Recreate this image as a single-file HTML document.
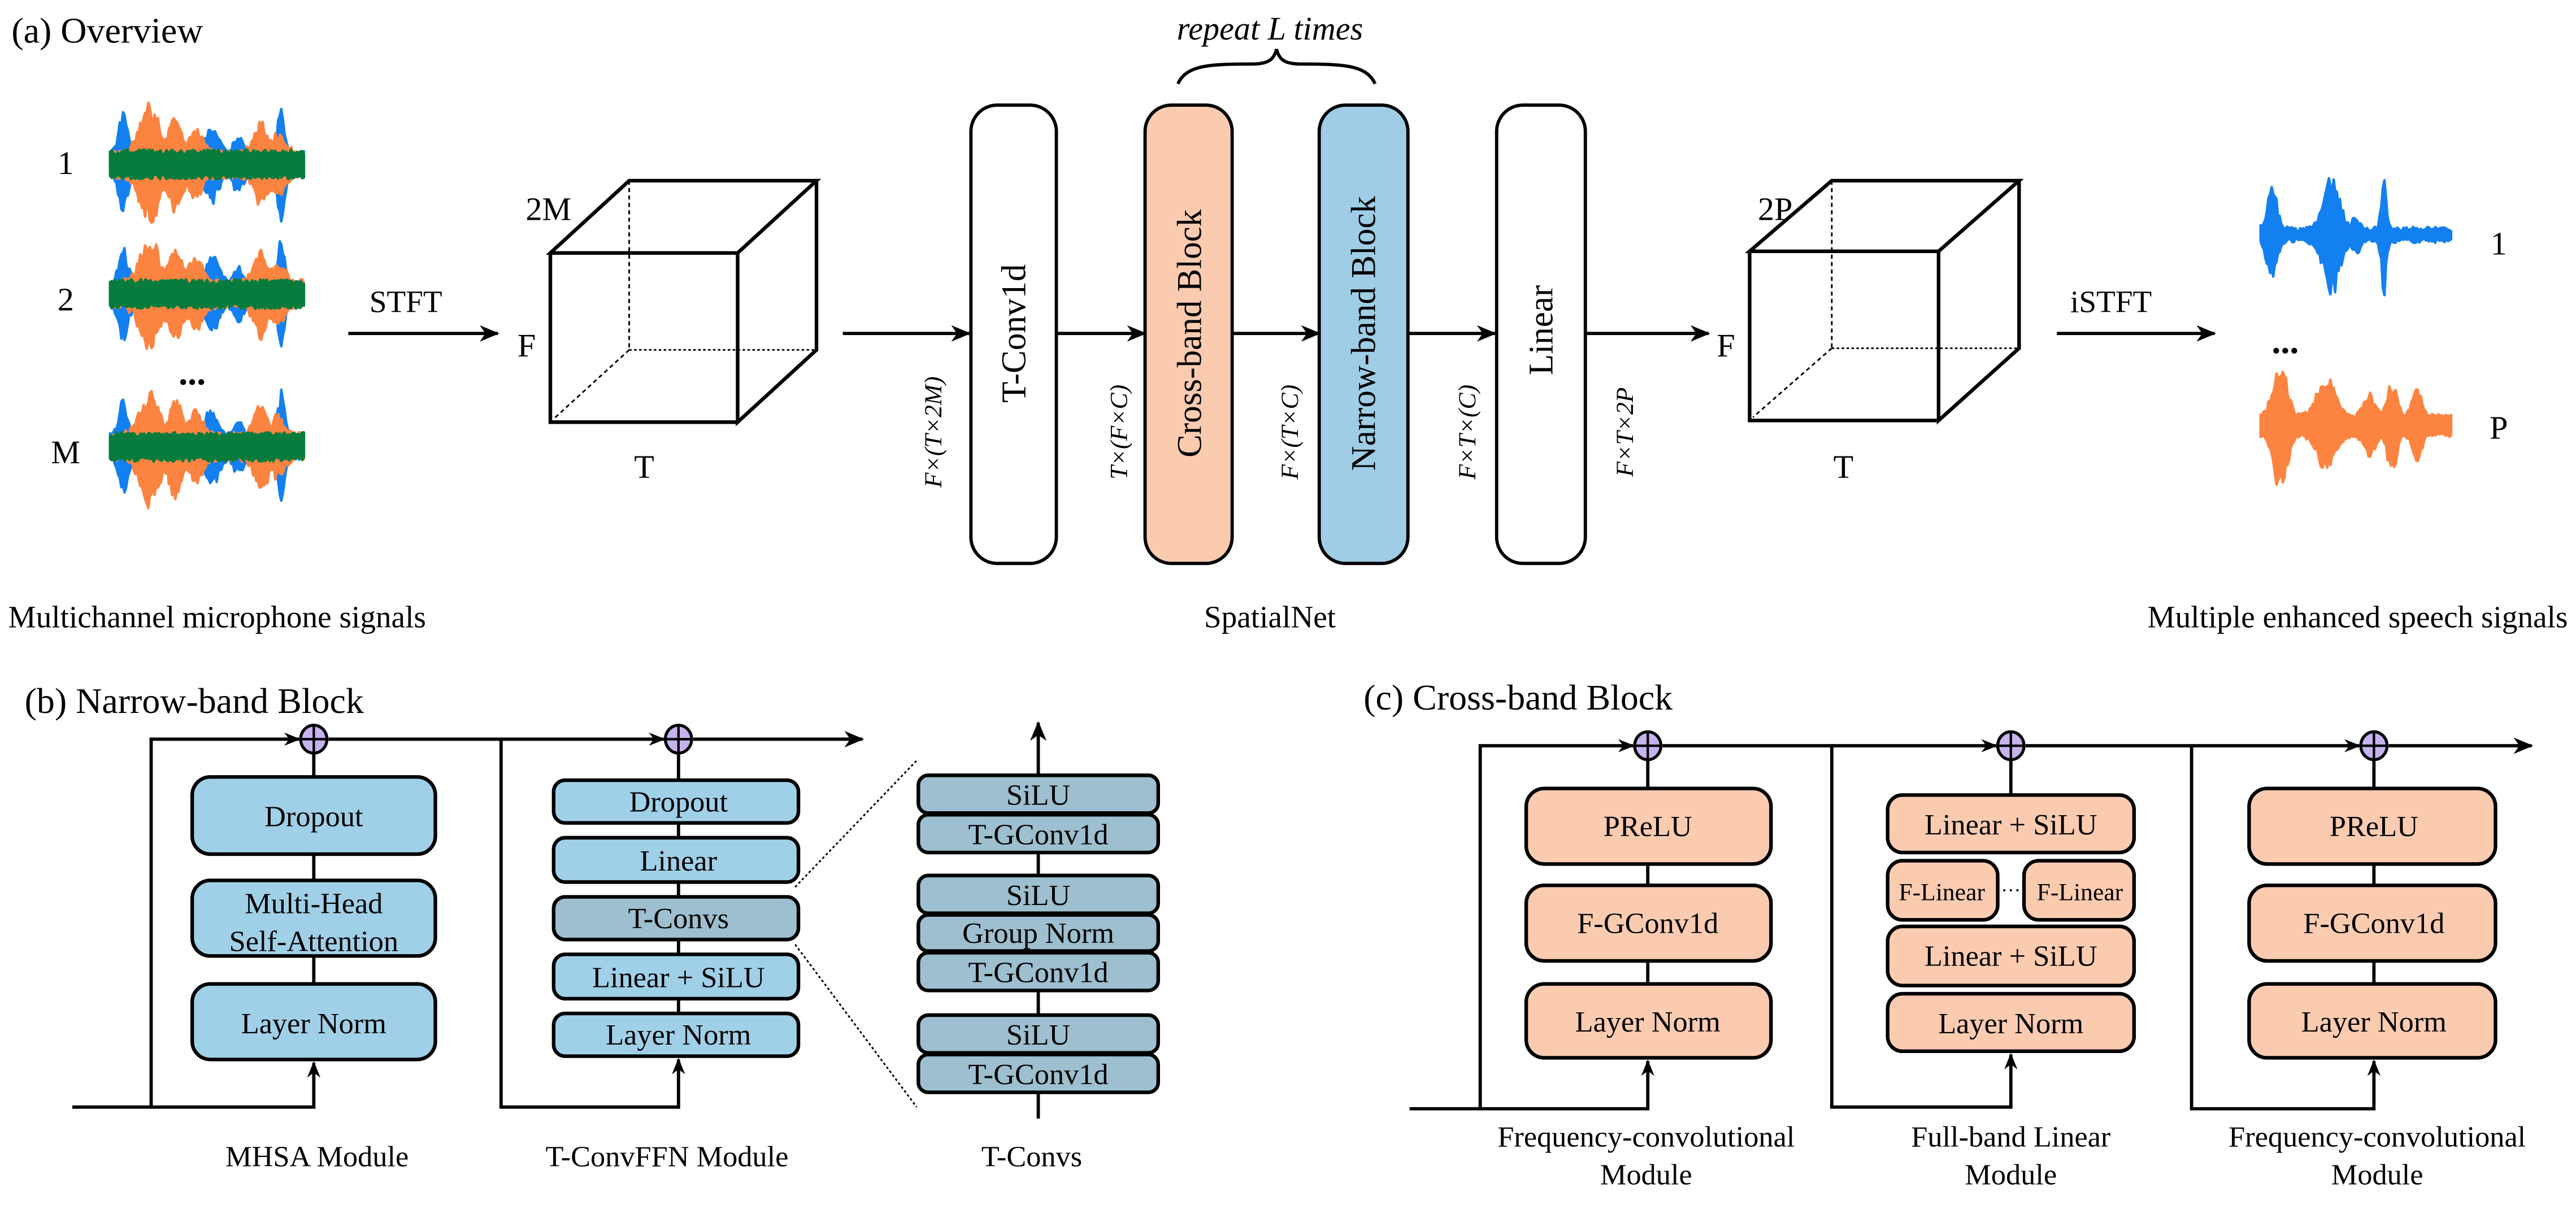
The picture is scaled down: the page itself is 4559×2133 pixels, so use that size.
<!DOCTYPE html>
<html><head><meta charset="utf-8">
<style>
html,body{margin:0;padding:0;background:#fff;}
svg{display:block;}
text{font-family:"Liberation Serif","DejaVu Serif",serif;fill:#000;}
</style></head>
<body>
<svg id="s" width="4559" height="2133" viewBox="0 0 1568 733.6" preserveAspectRatio="none" xmlns="http://www.w3.org/2000/svg">
<defs>
<marker id="ah" markerWidth="12" markerHeight="10" refX="11" refY="5" orient="auto" markerUnits="userSpaceOnUse">
<path d="M0,0 L12,5 L0,10 L3.5,5 Z" fill="#000"/>
</marker>
<marker id="ahs" markerWidth="10" markerHeight="8" refX="9" refY="4" orient="auto" markerUnits="userSpaceOnUse">
<path d="M0,0 L10,4 L0,8 L3,4 Z" fill="#000"/>
</marker>
</defs>
<rect width="1568" height="733.6" fill="#fff"/>

<!-- (a) Overview -->
<text x="7" y="26" font-size="22">(a) Overview</text>
<text x="773" y="24" font-size="20" font-style="italic" text-anchor="middle">repeat L times</text>
<path d="M717,51 C722,40 735,39 760,39 C770,39 775,38 777,30 C779,38 784,39 794,39 C819,39 832,40 837,51" fill="none" stroke="#000" stroke-width="2"/>

<g id="waves"></g>
<text x="40" y="106" font-size="20" text-anchor="middle">1</text>
<text x="40" y="189" font-size="20" text-anchor="middle">2</text>
<text x="117" y="234" font-size="22" text-anchor="middle" font-weight="bold">...</text>
<text x="40" y="282" font-size="20" text-anchor="middle">M</text>
<text x="5" y="382" font-size="19">Multichannel microphone signals</text>

<text x="247" y="190" font-size="19" text-anchor="middle">STFT</text>
<line x1="212" y1="203" x2="303" y2="203" stroke="#000" stroke-width="2" marker-end="url(#ah)"/>

<!-- cube 1 -->
<g fill="none" stroke="#000">
<line x1="383" y1="110" x2="383" y2="213" stroke-dasharray="2.5,2" stroke-width="1"/>
<line x1="383" y1="213" x2="497" y2="213" stroke-dasharray="1.5,1.5" stroke-width="1"/>
<line x1="383" y1="213" x2="337" y2="255" stroke-dasharray="2.5,2" stroke-width="1"/>
<path d="M335,154 L383,110 L497,110 L449,154 Z M449,154 L449,257 L497,213 L497,110 M335,154 L335,257 L449,257" stroke-width="2.2" stroke-linejoin="miter"/>
</g>
<text x="320" y="134" font-size="20">2M</text>
<text x="315" y="217" font-size="20">F</text>
<text x="386" y="291" font-size="20">T</text>

<line x1="513" y1="203" x2="590" y2="203" stroke="#000" stroke-width="2" marker-end="url(#ah)"/>
<rect x="591" y="64" width="52" height="279" rx="16" fill="#fff" stroke="#000" stroke-width="2"/>
<text transform="translate(624,203) rotate(-90)" font-size="21" text-anchor="middle">T-Conv1d</text>
<line x1="643" y1="203" x2="697" y2="203" stroke="#000" stroke-width="2" marker-end="url(#ah)"/>
<rect x="697" y="64" width="53" height="279" rx="16" fill="#fbcbb0" stroke="#000" stroke-width="2"/>
<text transform="translate(731,203) rotate(-90)" font-size="21" text-anchor="middle">Cross-band Block</text>
<line x1="750" y1="203" x2="803" y2="203" stroke="#000" stroke-width="2" marker-end="url(#ah)"/>
<rect x="803" y="64" width="54" height="279" rx="16" fill="#9fcde6" stroke="#000" stroke-width="2"/>
<text transform="translate(837,203) rotate(-90)" font-size="21" text-anchor="middle">Narrow-band Block</text>
<line x1="857" y1="203" x2="910" y2="203" stroke="#000" stroke-width="2" marker-end="url(#ah)"/>
<rect x="911" y="64" width="54" height="279" rx="16" fill="#fff" stroke="#000" stroke-width="2"/>
<text transform="translate(945,201) rotate(-90)" font-size="21" text-anchor="middle">Linear</text>
<line x1="965" y1="203" x2="1040" y2="203" stroke="#000" stroke-width="2" marker-end="url(#ah)"/>

<g font-size="15" font-style="italic">
<text transform="translate(573,263) rotate(-90)" text-anchor="middle">F×(T×2M)</text>
<text transform="translate(686,263) rotate(-90)" text-anchor="middle">T×(F×C)</text>
<text transform="translate(790,263) rotate(-90)" text-anchor="middle">F×(T×C)</text>
<text transform="translate(898,263) rotate(-90)" text-anchor="middle">F×T×(C)</text>
<text transform="translate(994,263) rotate(-90)" text-anchor="middle">F×T×2P</text>
</g>

<!-- cube 2 -->
<g fill="none" stroke="#000">
<line x1="1115" y1="110" x2="1115" y2="212" stroke-dasharray="2.5,2" stroke-width="1"/>
<line x1="1115" y1="212" x2="1229" y2="212" stroke-dasharray="1.5,1.5" stroke-width="1"/>
<line x1="1115" y1="212" x2="1067" y2="254" stroke-dasharray="2.5,2" stroke-width="1"/>
<path d="M1065,153 L1115,110 L1229,110 L1180,153 Z M1180,153 L1180,256 L1229,212 L1229,110 M1065,153 L1065,256 L1180,256" stroke-width="2.2"/>
</g>
<text x="1070" y="134" font-size="20">2P</text>
<text x="1045" y="217" font-size="20">F</text>
<text x="1116" y="291" font-size="20">T</text>

<text x="1285" y="190" font-size="19" text-anchor="middle">iSTFT</text>
<line x1="1252" y1="203" x2="1348" y2="203" stroke="#000" stroke-width="2" marker-end="url(#ah)"/>
<text x="1521" y="155" font-size="20" text-anchor="middle">1</text>
<text x="1391" y="215" font-size="22" text-anchor="middle" font-weight="bold">...</text>
<text x="1521" y="267" font-size="20" text-anchor="middle">P</text>
<text x="773" y="382" font-size="19" text-anchor="middle">SpatialNet</text>
<text x="1563" y="382" font-size="19" text-anchor="end">Multiple enhanced speech signals</text>

<!-- (b) Narrow-band -->
<text x="15" y="434" font-size="22">(b) Narrow-band Block</text>
<g fill="none" stroke="#000" stroke-width="2">
<path d="M44,674 L191,674 L191,647" marker-end="url(#ahs)"/>
<path d="M92,674 L92,450 L182,450" marker-end="url(#ahs)"/>
<line x1="191" y1="459" x2="191" y2="473"/>
<line x1="191" y1="520" x2="191" y2="536"/>
<line x1="191" y1="582" x2="191" y2="599"/>
<path d="M200,450 L404,450" marker-end="url(#ahs)"/>
<path d="M305,450 L305,674 L413,674 L413,645" marker-end="url(#ahs)"/>
<path d="M422,450 L525,450" marker-end="url(#ah)"/>
<line x1="413" y1="459" x2="413" y2="475"/>
<line x1="413" y1="501" x2="413" y2="510"/>
<line x1="413" y1="537" x2="413" y2="546"/>
<line x1="413" y1="572" x2="413" y2="581"/>
<line x1="413" y1="608" x2="413" y2="617"/>
<path d="M632,681 L632,440" marker-end="url(#ah)"/>
</g>
<g fill="#c6b3ee" stroke="#000" stroke-width="1.8">
<ellipse cx="191" cy="450" rx="8" ry="8.5"/><ellipse cx="413" cy="450" rx="8" ry="8.5"/>
</g>
<g stroke="#000" stroke-width="1.5">
<line x1="191" y1="442" x2="191" y2="458"/><line x1="183" y1="450" x2="199" y2="450"/>
<line x1="413" y1="442" x2="413" y2="458"/><line x1="405" y1="450" x2="421" y2="450"/>
</g>
<g stroke="#000" stroke-width="1" stroke-dasharray="1.5,1.5">
<line x1="484" y1="540" x2="558" y2="463"/><line x1="484" y1="575" x2="558" y2="674"/>
</g>
<g stroke="#000" stroke-width="2.2" fill="#a0d0e8">
<rect x="117" y="473" width="148" height="47" rx="11"/>
<rect x="117" y="536" width="148" height="46" rx="11"/>
<rect x="117" y="599" width="148" height="46" rx="11"/>
<rect x="337" y="475" width="149" height="26" rx="7"/>
<rect x="337" y="510" width="149" height="27" rx="7"/>
<rect x="337" y="546" width="149" height="26" rx="7" fill="#9dbfcf"/>
<rect x="337" y="581" width="149" height="27" rx="7"/>
<rect x="337" y="617" width="149" height="26" rx="7"/>
</g>
<g stroke="#000" stroke-width="2.2" fill="#9dbfcf">
<rect x="559" y="472" width="146" height="23" rx="6"/>
<rect x="559" y="496" width="146" height="23" rx="6"/>
<rect x="559" y="533" width="146" height="23" rx="6"/>
<rect x="559" y="557" width="146" height="22" rx="6"/>
<rect x="559" y="580" width="146" height="23" rx="6"/>
<rect x="559" y="618" width="146" height="23" rx="6"/>
<rect x="559" y="642" width="146" height="23" rx="6"/>
</g>
<g font-size="18" text-anchor="middle">
<text x="191" y="503">Dropout</text>
<text x="191" y="556">Multi-Head</text>
<text x="191" y="579">Self-Attention</text>
<text x="191" y="629">Layer Norm</text>
<text x="413" y="494">Dropout</text>
<text x="413" y="530">Linear</text>
<text x="413" y="565">T-Convs</text>
<text x="413" y="601">Linear  +  SiLU</text>
<text x="413" y="636">Layer Norm</text>
<text x="632" y="490">SiLU</text>
<text x="632" y="514">T-GConv1d</text>
<text x="632" y="551">SiLU</text>
<text x="632" y="574">Group Norm</text>
<text x="632" y="598">T-GConv1d</text>
<text x="632" y="636">SiLU</text>
<text x="632" y="660">T-GConv1d</text>
</g>
<g font-size="18" text-anchor="middle">
<text x="193" y="710">MHSA Module</text>
<text x="406" y="710">T-ConvFFN Module</text>
<text x="628" y="710">T-Convs</text>
</g>

<!-- (c) Cross-band -->
<text x="830" y="432" font-size="22">(c) Cross-band Block</text>
<g fill="none" stroke="#000" stroke-width="2">
<path d="M858,675 L1003,675 L1003,646" marker-end="url(#ahs)"/>
<path d="M901,675 L901,454 L994,454" marker-end="url(#ahs)"/>
<path d="M1012,454 L1215,454" marker-end="url(#ahs)"/>
<path d="M1115,454 L1115,674 L1224,674 L1224,642" marker-end="url(#ahs)"/>
<path d="M1233,454 L1436,454" marker-end="url(#ahs)"/>
<path d="M1334,454 L1334,675 L1445,675 L1445,646" marker-end="url(#ahs)"/>
<path d="M1454,454 L1541,454" marker-end="url(#ah)"/>
<line x1="1003" y1="463" x2="1003" y2="480"/><line x1="1003" y1="526" x2="1003" y2="539"/><line x1="1003" y1="585" x2="1003" y2="599"/>
<line x1="1224" y1="463" x2="1224" y2="484"/>
<line x1="1445" y1="463" x2="1445" y2="480"/><line x1="1445" y1="526" x2="1445" y2="539"/><line x1="1445" y1="585" x2="1445" y2="599"/>
</g>
<g fill="#c6b3ee" stroke="#000" stroke-width="1.8">
<ellipse cx="1003" cy="454" rx="8" ry="8.5"/><ellipse cx="1224" cy="454" rx="8" ry="8.5"/><ellipse cx="1445" cy="454" rx="8" ry="8.5"/>
</g>
<g stroke="#000" stroke-width="1.5">
<line x1="1003" y1="446" x2="1003" y2="462"/><line x1="995" y1="454" x2="1011" y2="454"/>
<line x1="1224" y1="446" x2="1224" y2="462"/><line x1="1216" y1="454" x2="1232" y2="454"/>
<line x1="1445" y1="446" x2="1445" y2="462"/><line x1="1437" y1="454" x2="1453" y2="454"/>
</g>
<g stroke="#000" stroke-width="2.2" fill="#fbcbb0">
<rect x="929" y="480" width="149" height="46" rx="11"/>
<rect x="929" y="539" width="149" height="46" rx="11"/>
<rect x="929" y="599" width="149" height="45" rx="11"/>
<rect x="1149" y="484" width="150" height="35" rx="9"/>
<rect x="1149" y="524" width="67" height="36" rx="9"/>
<rect x="1232" y="524" width="67" height="36" rx="9"/>
<rect x="1149" y="564" width="150" height="36" rx="9"/>
<rect x="1149" y="605" width="150" height="35" rx="9"/>
<rect x="1369" y="480" width="150" height="46" rx="11"/>
<rect x="1369" y="539" width="150" height="46" rx="11"/>
<rect x="1369" y="599" width="150" height="45" rx="11"/>
</g>
<g font-size="18" text-anchor="middle">
<text x="1003" y="509">PReLU</text>
<text x="1003" y="568">F-GConv1d</text>
<text x="1003" y="628">Layer Norm</text>
<text x="1224" y="508">Linear + SiLU</text>
<text x="1182" y="548" font-size="15">F-Linear</text>
<text x="1224" y="546" font-size="12">···</text>
<text x="1266" y="548" font-size="15">F-Linear</text>
<text x="1224" y="588">Linear + SiLU</text>
<text x="1224" y="629">Layer Norm</text>
<text x="1445" y="509">PReLU</text>
<text x="1445" y="568">F-GConv1d</text>
<text x="1445" y="628">Layer Norm</text>
<text x="1002" y="698">Frequency-convolutional</text>
<text x="1002" y="721">Module</text>
<text x="1224" y="698">Full-band Linear</text>
<text x="1224" y="721">Module</text>
<text x="1447" y="698">Frequency-convolutional</text>
<text x="1447" y="721">Module</text>
</g>
</svg>
<script>
(function(){
var seed=12345;function r(){seed=(seed*16807)%2147483647;return seed/2147483647;}
var g=document.getElementById('waves');var NS='http://www.w3.org/2000/svg';
function env(x,bumps){var v=0;for(var i=0;i<bumps.length;i++){var b=bumps[i];var d=(x-b[0])/b[1];v=Math.max(v,b[2]*Math.exp(-d*d));}return v;}
function wave(x0,x1,cy,bumps,color,base,noise){
 var n=120,up=[],dn=[];
 for(var i=0;i<=n;i++){var x=x0+(x1-x0)*i/n;var a=base+env(x-x0,bumps)*(0.6+0.4*r())+noise*r();
 up.push(x.toFixed(1)+','+(cy-a).toFixed(1));
 var b=base+env(x-x0,bumps)*(0.6+0.4*r())+noise*r();dn.unshift(x.toFixed(1)+','+(cy+b).toFixed(1));}
 var p=document.createElementNS(NS,'polygon');p.setAttribute('points',up.concat(dn).join(' '));
 p.setAttribute('fill',color);p.setAttribute('stroke',color);p.setAttribute('stroke-width','1.5');p.setAttribute('stroke-linejoin','round');g.appendChild(p);}
var ob=[[22,8,30],[38,6,24],[50,6,16],[90,6,20],[100,6,13]];
var bb=[[8,4,24],[62,6,18],[78,4,11],[104,3,28]];
[100,179,272].forEach(function(cy){
 wave(67,185,cy,bb,'#1380f2',5,3);
 wave(69,185,cy,ob,'#fd8340',5,4);
 wave(67,185,cy,[],'#087c3c',6,3);
});
wave(1376,1492,143,[[7,4,28],[43,7,34],[58,3,9],[75,2,36]],'#1380f2',2,3);
wave(1376,1492,259,[[12,6,34],[40,8,24],[66,5,15],[80,4,24],[95,4,18]],'#fd8340',4,3);
})();
</script>
</body></html>
